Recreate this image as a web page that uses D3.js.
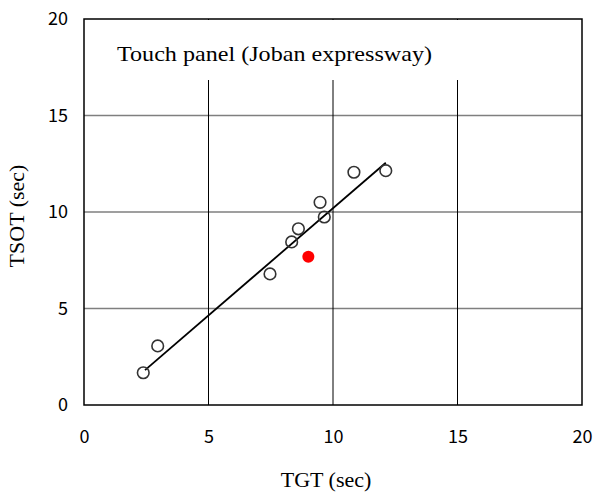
<!DOCTYPE html>
<html>
<head>
<meta charset="utf-8">
<script src="https://cdn.jsdelivr.net/npm/d3@7"></script>
<style>
  body { margin: 0; background: #fff; }
  .tick text { font-family: "Noto Sans CJK JP", "DejaVu Sans", sans-serif; font-size: 18px; fill: #000; }
  .title, .axis-title { font-family: "Liberation Serif", serif; fill: #000; }
</style>
</head>
<body>
<script>
// open circles: Touch panel, individual drivers
const tgt  = [2.38, 2.96, 7.47, 8.34, 8.61, 9.48, 9.65, 10.84, 12.12];
const tsot = [1.67, 3.06, 6.79, 8.45, 9.13, 10.50, 9.74, 12.06, 12.14];
// filled red point
const meanPoint = [9.01, 7.68];
// fitted line endpoints
const fitX = [2.45, 12.12];
const fitY = [1.81, 12.55];
const ticks = [0, 5, 10, 15, 20];

const width = 593,
      height = 494;
const margin = {top: 19, right: 11, bottom: 89, left: 84};

const x = d3.scaleLinear().domain([0, 20]).range([margin.left, width - margin.right]);
const y = d3.scaleLinear().domain([0, 20]).range([height - margin.bottom, margin.top]);

const svg = d3.select("body").append("svg")
    .attr("width", width)
    .attr("height", height);

// horizontal grid (gray)
svg.append("g")
    .selectAll("line")
    .data(ticks.slice(1, -1))
    .join("line")
    .attr("x1", x(0)).attr("x2", x(20))
    .attr("y1", d => y(d)).attr("y2", d => y(d))
    .attr("stroke", "#7f7f7f")
    .attr("stroke-width", 1.5);

// vertical grid (black)
svg.append("g")
    .selectAll("line")
    .data(ticks.slice(1, -1))
    .join("line")
    .attr("x1", d => x(d)).attr("x2", d => x(d))
    .attr("y1", y(0)).attr("y2", y(20))
    .attr("stroke", "#000")
    .attr("stroke-width", 1);

// title box covering grid
svg.append("rect")
    .attr("x", x(0) + 1).attr("y", y(20) + 1)
    .attr("width", x(20) - x(0) - 2)
    .attr("height", 80 - y(20) - 1)
    .attr("fill", "#fff");

svg.append("text")
    .attr("class", "title")
    .attr("x", 117)
    .attr("y", 61)
    .attr("font-size", 22)
    .attr("textLength", 315)
    .attr("lengthAdjust", "spacingAndGlyphs")
    .text("Touch panel (Joban expressway)");

// frame
svg.append("rect")
    .attr("x", x(0)).attr("y", y(20))
    .attr("width", x(20) - x(0))
    .attr("height", y(0) - y(20))
    .attr("fill", "none")
    .attr("stroke", "#000")
    .attr("stroke-width", 1.5);

// axes (labels only)
svg.append("g")
    .attr("transform", `translate(0,${y(0)})`)
    .call(d3.axisBottom(x).tickValues(ticks).tickSize(0).tickPadding(25))
    .call(g => g.select(".domain").remove());

svg.append("g")
    .attr("transform", `translate(${x(0)},0)`)
    .call(d3.axisLeft(y).tickValues(ticks).tickSize(0).tickPadding(16))
    .call(g => g.select(".domain").remove());

svg.append("text")
    .attr("class", "axis-title")
    .attr("x", 326)
    .attr("y", 487)
    .attr("text-anchor", "middle")
    .attr("font-size", 22)
    .text("TGT (sec)");

svg.append("text")
    .attr("class", "axis-title")
    .attr("transform", `translate(24,${(y(0) + y(20)) / 2 + 4}) rotate(-90)`)
    .attr("text-anchor", "middle")
    .attr("font-size", 22)
    .text("TSOT (sec)");

// fitted line
svg.append("line")
    .attr("x1", x(fitX[0])).attr("y1", y(fitY[0]))
    .attr("x2", x(fitX[1])).attr("y2", y(fitY[1]))
    .attr("stroke", "#000")
    .attr("stroke-width", 1.8);

// open circles
svg.append("g")
    .selectAll("circle")
    .data(d3.zip(tgt, tsot))
    .join("circle")
    .attr("cx", d => x(d[0]))
    .attr("cy", d => y(d[1]))
    .attr("r", 5.8)
    .attr("fill", "none")
    .attr("stroke", "#333")
    .attr("stroke-width", 1.6);

svg.append("circle")
    .attr("cx", x(meanPoint[0]))
    .attr("cy", y(meanPoint[1]))
    .attr("r", 6)
    .attr("fill", "#ff0000");
</script>
</body>
</html>
